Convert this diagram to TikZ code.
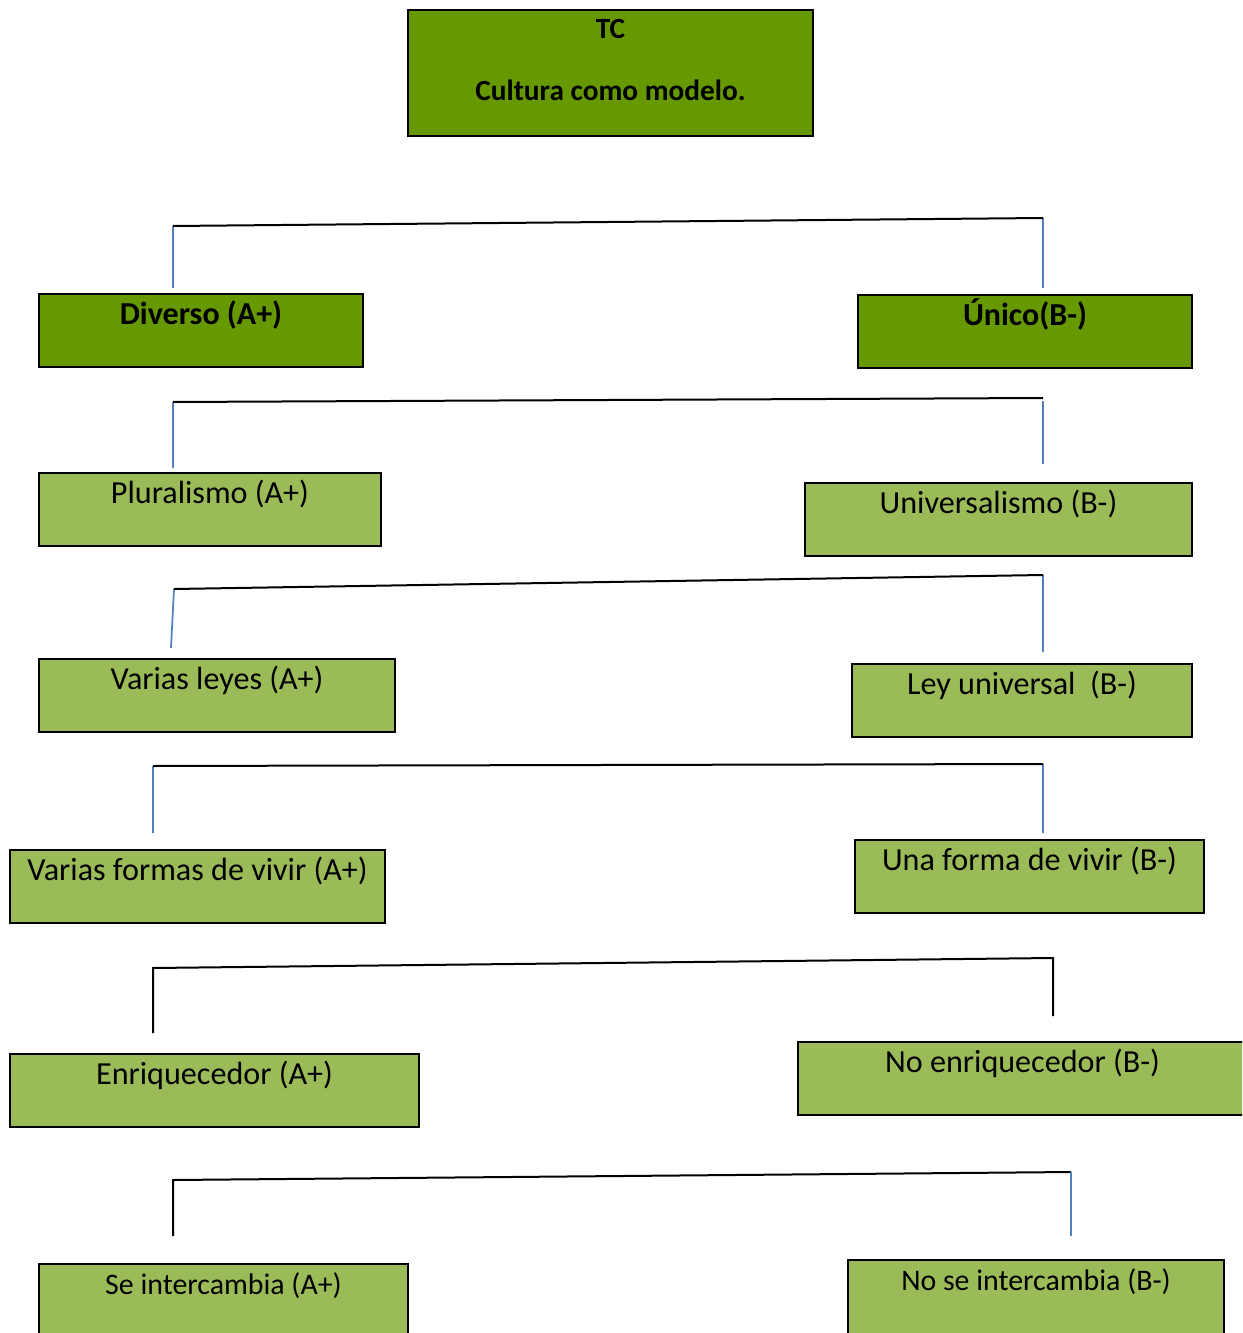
\documentclass[tikz,border=0pt]{standalone}
\usepackage{fontspec}
\setmainfont{Carlito}
\definecolor{darkg}{HTML}{669900}
\definecolor{lightg}{HTML}{9BBB59}
\definecolor{linkblue}{HTML}{4F81BD}
\tikzset{
  basebox/.style={draw=black, line width=1.5pt, inner sep=0pt, anchor=north,
    text height=22.9pt, text depth=31.9pt},
  darkbox/.style={basebox, fill=darkg, font=\fontsize{24pt}{28pt}\selectfont\bfseries},
  lightbox/.style={basebox, fill=lightg, font=\fontsize{24.1pt}{28pt}\selectfont},
  smallbox/.style={basebox, fill=lightg, text depth=40pt, font=\fontsize{22.4pt}{27pt}\selectfont},
  hline/.style={draw=black, line width=1.5pt},
  bline/.style={draw=linkblue, line width=1.3pt},
  kline/.style={draw=black, line width=1.5pt}
}
\begin{document}
\begin{tikzpicture}[x=0.75pt,y=-0.75pt]
\clip (0,0) rectangle (1242,1333);
\fill[white] (0,0) rectangle (1242,1333);

% top box
\node[draw=black, line width=1.5pt, fill=darkg, inner sep=0pt, anchor=north,
  minimum width=303.75pt, text height=21.75pt, text depth=72.75pt,
  font=\fontsize{22pt}{26pt}\selectfont\bfseries] (tc) at (610.5,9) {TC};
\node[anchor=base, inner sep=0pt, font=\fontsize{22pt}{26pt}\selectfont\bfseries] (tcsub) at (610.5,101) {Cultura como modelo.};

% level 1
\node[darkbox, minimum width=243pt] (div) at (201,293) {Diverso (A+)};
\node[darkbox, minimum width=250.5pt] (uni) at (1025,294) {Único(B-)};

% level 2
\node[lightbox, minimum width=256.5pt] (plu) at (210,472) {Pluralismo (A+)};
\node[lightbox, minimum width=290.25pt] (univ) at (998.5,482) {Universalismo (B-)};

% level 3
\node[lightbox, minimum width=267pt] (ley) at (217,658) {Varias leyes (A+)};
\node[lightbox, minimum width=255pt] (leyu) at (1022,663) {Ley universal\ \ (B-)};

% level 4
\node[lightbox, minimum width=281.25pt] (for) at (197.5,849) {Varias formas de vivir (A+)};
\node[lightbox, minimum width=261.75pt] (una) at (1029.5,839) {Una forma de vivir (B-)};

% level 5
\node[lightbox, minimum width=306.75pt] (enr) at (214.5,1053) {Enriquecedor (A+)};
\node[lightbox, minimum width=337pt] (noe) at (1022.5,1041) {No enriquecedor (B-)};

% level 6
\node[smallbox, minimum width=276.75pt] (sei) at (223.5,1263) {Se intercambia (A+)};
\node[smallbox, minimum width=282pt] (nos) at (1036,1259) {No se intercambia (B-)};

% connector coordinates
\coordinate (a1) at (173,226); \coordinate (b1) at (1043,218);
\coordinate (a1e) at (173,288); \coordinate (b1e) at (1043,288);
\coordinate (a2) at (173,402); \coordinate (b2) at (1043,398);
\coordinate (a2e) at (173,468); \coordinate (b2s) at (1043,401); \coordinate (b2e) at (1043,464);
\coordinate (a3) at (174,589); \coordinate (b3) at (1043,575);
\coordinate (a3e) at (171,648); \coordinate (b3e) at (1043,652);
\coordinate (a4) at (153,766); \coordinate (b4) at (1043,764);
\coordinate (a4e) at (153,833); \coordinate (b4e) at (1043,833);
\coordinate (a5) at (153,968); \coordinate (b5) at (1053,958);
\coordinate (a5e) at (153,1033); \coordinate (b5e) at (1053,1016);
\coordinate (a6) at (173,1180); \coordinate (b6) at (1071,1172);
\coordinate (a6e) at (173,1236); \coordinate (b6e) at (1071,1236);

% connectors
\draw[bline] (a1) -- (a1e); \draw[bline] (b1) -- (b1e);
\draw[hline] (a1) -- (b1);
\draw[bline] (a2) -- (a2e); \draw[bline] (b2s) -- (b2e);
\draw[hline] (a2) -- (b2);
\draw[bline] (a3) -- (a3e); \draw[bline] (b3) -- (b3e);
\draw[hline] (a3) -- (b3);
\draw[bline] (a4) -- (a4e); \draw[bline] (b4) -- (b4e);
\draw[hline] (a4) -- (b4);
\draw[kline] (a5e) -- (a5) -- (b5) -- (b5e);
\draw[kline] (a6e) -- (a6) -- (b6);
\draw[bline] (b6) -- (b6e);
\end{tikzpicture}
\end{document}
